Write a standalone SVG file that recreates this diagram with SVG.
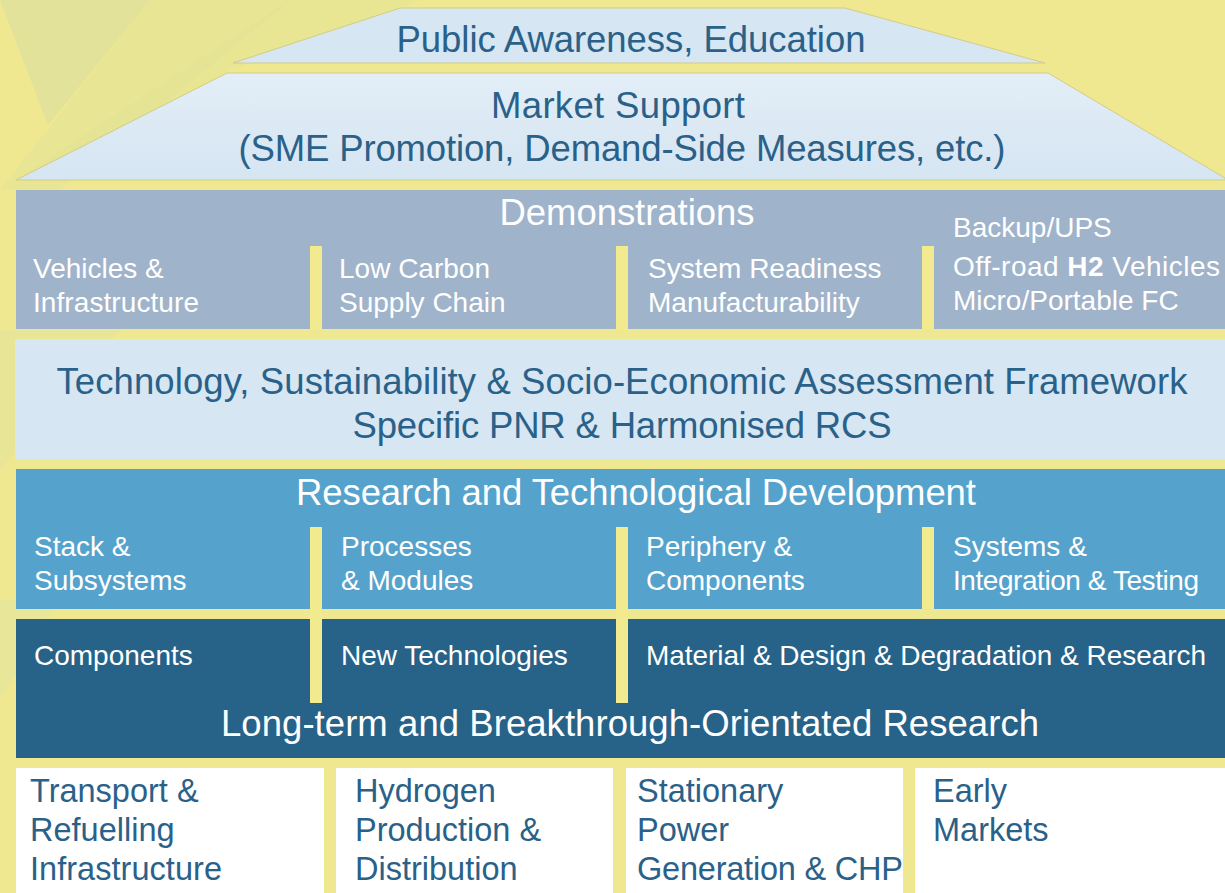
<svg xmlns="http://www.w3.org/2000/svg" width="1225" height="893" viewBox="0 0 1225 893">
<defs>
<linearGradient id="mkt" x1="0" y1="0" x2="0" y2="1">
<stop offset="0" stop-color="#e3eef7"/>
<stop offset="1" stop-color="#d5e5f2"/>
</linearGradient>
<style>
text{font-family:"Liberation Sans",Arial,sans-serif}
.dk{fill:#2a6189}
.wt{fill:#ffffff}
.big{font-size:36.5px}
.sub{font-size:28px}
.bot{font-size:32.5px}
.mid{text-anchor:middle}
.bar{fill:#f2ea8e}
</style>
</defs>
<g id="background">
<rect x="0" y="0" width="1225" height="893" fill="#efe891"/>
<polygon points="0,0 150,0 48,125" fill="#dfe09c" opacity="0.8"/>
<polygon points="150,0 290,0 60,190 0,190" fill="#e6e496" opacity="0.7"/>
<polygon points="290,0 420,0 230,70 16,180" fill="#e2e295" opacity="0.6"/>
<polygon points="0,330 120,330 0,470" fill="#e3e49a" opacity="0.6"/>
<polygon points="0,600 60,600 0,700" fill="#e2e49c" opacity="0.6"/>
<polygon points="1050,0 1225,0 1225,110" fill="#f0e791" opacity="0.8"/>
</g>
<g id="connectors"></g>
<g id="public-awareness">
<polygon points="400,8 845,8 1045,63 233,63" fill="#d6e6f3" stroke="#d2cc86" stroke-width="1"/>
<text class="dk big mid" x="631" y="52" textLength="469">Public Awareness, Education</text>
</g>
<g id="market-support">
<polygon points="227,73 1048,73 1225,178 1225,180 16,180" fill="url(#mkt)" stroke="#d2cc86" stroke-width="1"/>
<text class="dk big mid" x="618" y="118" textLength="254">Market Support</text>
<text class="dk big mid" x="622" y="161" textLength="767">(SME Promotion, Demand-Side Measures, etc.)</text>
</g>
<g id="demonstrations">
<rect x="16" y="190" width="1209" height="139" fill="#9fb3ca"/>
<rect class="bar" x="310" y="246" width="12" height="84"/>
<rect class="bar" x="616" y="246" width="12" height="84"/>
<rect class="bar" x="922" y="246" width="12" height="84"/>
<text class="wt big mid" x="627" y="225" textLength="255">Demonstrations</text>
<text class="wt sub" x="33" y="278">Vehicles &amp;</text>
<text class="wt sub" x="33" y="312" textLength="166">Infrastructure</text>
<text class="wt sub" x="339" y="278">Low Carbon</text>
<text class="wt sub" x="339" y="312">Supply Chain</text>
<text class="wt sub" x="648" y="278">System Readiness</text>
<text class="wt sub" x="648" y="312">Manufacturability</text>
<text class="wt sub" x="953" y="237">Backup/UPS</text>
<text class="wt sub" x="953" y="276" textLength="267">Off-road <tspan font-weight="bold">H2</tspan> Vehicles</text>
<text class="wt sub" x="953" y="310">Micro/Portable FC</text>
</g>
<g id="assessment-framework">
<rect x="15" y="339" width="1210" height="120" fill="#d6e6f2"/>
<text class="dk big mid" x="622" y="394" textLength="1131">Technology, Sustainability &amp; Socio-Economic Assessment Framework</text>
<text class="dk big mid" x="622" y="438" textLength="539">Specific PNR &amp; Harmonised RCS</text>
</g>
<g id="rtd">
<rect x="16" y="469" width="1209" height="140" fill="#55a3cc"/>
<text class="wt big mid" x="636" y="505" textLength="680">Research and Technological Development</text>
<text class="wt sub" x="34" y="556">Stack &amp;</text>
<text class="wt sub" x="34" y="590">Subsystems</text>
<text class="wt sub" x="341" y="556">Processes</text>
<text class="wt sub" x="341" y="590">&amp; Modules</text>
<text class="wt sub" x="646" y="556">Periphery &amp;</text>
<text class="wt sub" x="646" y="590">Components</text>
<text class="wt sub" x="953" y="556">Systems &amp;</text>
<text class="wt sub" x="953" y="590" textLength="246">Integration &amp; Testing</text>
</g>
<g id="long-term-research">
<rect x="16" y="619" width="1209" height="139" fill="#276388"/>
<text class="wt sub" x="34" y="665">Components</text>
<text class="wt sub" x="341" y="665">New Technologies</text>
<text class="wt sub" x="646" y="665" textLength="560">Material &amp; Design &amp; Degradation &amp; Research</text>
<text class="wt big mid" x="630" y="736" textLength="818">Long-term and Breakthrough-Orientated Research</text>
</g>
<g id="dividers">
<rect class="bar" x="922" y="527" width="12" height="82"/>
<rect class="bar" x="310" y="527" width="12" height="176"/>
<rect class="bar" x="616" y="527" width="12" height="176"/>
</g>
<g id="transport">
<rect x="16" y="768" width="308" height="125" fill="#ffffff"/>
<text class="dk bot" x="30" y="802">Transport &amp;</text>
<text class="dk bot" x="30" y="841">Refuelling</text>
<text class="dk bot" x="30" y="880" textLength="192">Infrastructure</text>
</g>
<g id="hydrogen">
<rect x="336" y="768" width="277" height="125" fill="#ffffff"/>
<text class="dk bot" x="355" y="802">Hydrogen</text>
<text class="dk bot" x="355" y="841">Production &amp;</text>
<text class="dk bot" x="355" y="880">Distribution</text>
</g>
<g id="stationary">
<rect x="626" y="768" width="277" height="125" fill="#ffffff"/>
<text class="dk bot" x="637" y="802">Stationary</text>
<text class="dk bot" x="637" y="841">Power</text>
<text class="dk bot" x="637" y="880" textLength="266">Generation &amp; CHP</text>
</g>
<g id="early-markets">
<rect x="915" y="768" width="310" height="125" fill="#ffffff"/>
<text class="dk bot" x="933" y="802">Early</text>
<text class="dk bot" x="933" y="841">Markets</text>
</g>
</svg>
